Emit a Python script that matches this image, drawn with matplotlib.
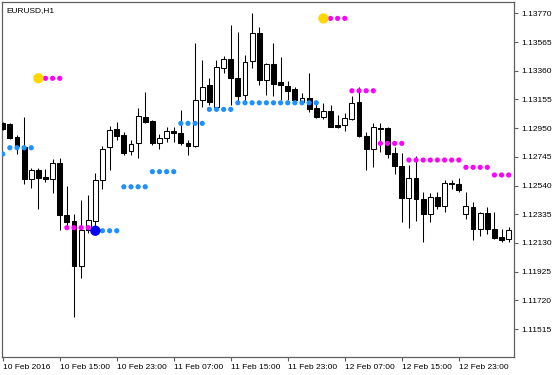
import numpy as np
import matplotlib
matplotlib.use('Agg')
import matplotlib.pyplot as plt

plt.rcParams['font.family'] = ['Liberation Sans', 'DejaVu Sans']

n = np.nan

# EURUSD H1 bars
opens = [1.12986, 1.12983, 1.12886, 1.12815, 1.12590, 1.12651, 1.12599, 1.12589, 1.12703, 1.12329,
         1.12286, 1.11965, 1.12222, 1.12289, 1.12579, 1.12813, 1.12941, 1.12903, 1.12789, 1.12841,
         1.13032, 1.13001, 1.12841, 1.12877, 1.12929, 1.12917, 1.12841, 1.12822, 1.13151, 1.13258,
         1.13103, 1.13377, 1.13441, 1.13306, 1.13186, 1.13432, 1.13627, 1.13294, 1.13408, 1.13277,
         1.13253, 1.13227, 1.13138, 1.13163, 1.13091, 1.13027, 1.13074, 1.12974, 1.12972, 1.13015,
         1.13138, 1.12896, 1.12799, 1.12949, 1.12949, 1.12770, 1.12679, 1.12449, 1.12592, 1.12447,
         1.12335, 1.12456, 1.12394, 1.12561, 1.12551, 1.12335, 1.12389, 1.12227, 1.12341, 1.12229,
         1.12169, 1.12156]
highs = [1.12994, 1.12990, 1.12904, 1.13029, 1.12665, 1.12665, 1.12658, 1.12727, 1.12734, 1.12536,
         1.12336, 1.12436, 1.12472, 1.12627, 1.12822, 1.12967, 1.12994, 1.12924, 1.12865, 1.13091,
         1.13206, 1.13008, 1.12908, 1.12960, 1.12960, 1.13079, 1.12865, 1.13556, 1.13436, 1.13306,
         1.13436, 1.13467, 1.13686, 1.13639, 1.13472, 1.13770, 1.13674, 1.13415, 1.13560, 1.13456,
         1.13286, 1.13241, 1.13199, 1.13341, 1.13138, 1.13127, 1.13115, 1.13043, 1.13056, 1.13179,
         1.13244, 1.12922, 1.12989, 1.12984, 1.12960, 1.12817, 1.12774, 1.12686, 1.12751, 1.12497,
         1.12488, 1.12496, 1.12579, 1.12579, 1.12592, 1.12496, 1.12419, 1.12354, 1.12389, 1.12351,
         1.12229, 1.12242]
lows = [1.12936, 1.12872, 1.12765, 1.12551, 1.12522, 1.12372, 1.12567, 1.12484, 1.12222, 1.12236,
        1.11603, 1.11877, 1.12199, 1.12210, 1.12513, 1.12651, 1.12865, 1.12758, 1.12758, 1.12734,
        1.12984, 1.12829, 1.12799, 1.12853, 1.12853, 1.12829, 1.12758, 1.12817, 1.13103, 1.13115,
        1.13091, 1.13341, 1.13115, 1.13120, 1.13138, 1.13379, 1.13258, 1.13186, 1.13179, 1.13151,
        1.13151, 1.13138, 1.13133, 1.13067, 1.13020, 1.13013, 1.12956, 1.12949, 1.12927, 1.13008,
        1.12889, 1.12651, 1.12672, 1.12776, 1.12740, 1.12622, 1.12279, 1.12240, 1.12286, 1.12136,
        1.12279, 1.12370, 1.12353, 1.12515, 1.12497, 1.12299, 1.12151, 1.12179, 1.12194, 1.12156,
        1.12135, 1.12133]
closes = [1.12944, 1.12883, 1.12822, 1.12586, 1.12651, 1.12596, 1.12586, 1.12703, 1.12329, 1.12279,
          1.11965, 1.12222, 1.12294, 1.12579, 1.12801, 1.12936, 1.12896, 1.12770, 1.12836, 1.13036,
          1.12992, 1.12846, 1.12877, 1.12929, 1.12917, 1.12841, 1.12822, 1.13151, 1.13246, 1.13134,
          1.13389, 1.13441, 1.13306, 1.13179, 1.13424, 1.13627, 1.13294, 1.13408, 1.13263, 1.13256,
          1.13217, 1.13151, 1.13163, 1.13086, 1.13027, 1.13074, 1.12960, 1.12960, 1.13020, 1.13132,
          1.12894, 1.12799, 1.12956, 1.12941, 1.12765, 1.12679, 1.12449, 1.12592, 1.12444, 1.12335,
          1.12456, 1.12394, 1.12561, 1.12548, 1.12508, 1.12394, 1.12227, 1.12341, 1.12227, 1.12163,
          1.12151, 1.12222]

# indicator buffers (blue = up stop, magenta = down stop)
up_stop = [1.12765, 1.12810, 1.12810, 1.12810, 1.12810, n, n, n, n, n,
           n, n, n, n, 1.12217, 1.12217, 1.12217, 1.12531, 1.12531, 1.12531,
           1.12531, 1.12639, 1.12639, 1.12639, 1.12639, 1.12984, 1.12984, 1.12984, 1.12984, 1.13084,
           1.13084, 1.13084, 1.13084, 1.13131, 1.13131, 1.13131, 1.13131, 1.13131, 1.13131, 1.13131,
           1.13131, 1.13131, 1.13131, 1.13131, 1.13131, n, n, n, n, n,
           n, n, n, n, n, n, n, n, n, n,
           n, n, n, n, n, n, n, n, n, n,
           n, n]
down_stop = [n, n, n, n, n, n, 1.13306, 1.13306, 1.13306, 1.12239,
             1.12239, 1.12239, 1.12239, n, n, n, n, n, n, n,
             n, n, n, n, n, n, n, n, n, n,
             n, n, n, n, n, n, n, n, n, n,
             n, n, n, n, n, n, 1.13734, 1.13734, 1.13734, 1.13217,
             1.13217, 1.13217, 1.13217, 1.12841, 1.12841, 1.12841, 1.12841, 1.12722, 1.12722, 1.12722,
             1.12722, 1.12722, 1.12722, 1.12722, 1.12722, 1.12670, 1.12670, 1.12670, 1.12670, 1.12615,
             1.12615, 1.12615]
buy_idx = [13]
buy_price = [1.12217]
sell_idx = [5, 45]
sell_price = [1.13306, 1.13734]

tick_idx = [0, 8, 16, 24, 32, 40, 48, 56, 64]
tick_labels = ['10 Feb 2016', '10 Feb 15:00', '10 Feb 23:00', '11 Feb 07:00', '11 Feb 15:00',
               '11 Feb 23:00', '12 Feb 07:00', '12 Feb 15:00', '12 Feb 23:00']
price_ticks = [1.13770, 1.13565, 1.13360, 1.13155, 1.12950, 1.12745, 1.12540,
               1.12335, 1.12130, 1.11925, 1.11720, 1.11515]

o = np.array(opens)
h = np.array(highs)
l = np.array(lows)
c = np.array(closes)
x = np.arange(len(o))
bull = c >= o

fig = plt.figure(figsize=(5.6, 3.75), dpi=100)
ax = fig.add_axes([2/560, 18/375, 512/560, 355/375])

ax.vlines(x, l, h, color='black', linewidth=0.75, zorder=2)
body_lo = np.minimum(o, c)
body_h = np.maximum(np.abs(c - o), 0.00002)
ax.bar(x, body_h, bottom=body_lo, width=0.68,
       color=np.where(bull, 'white', 'black'), edgecolor='black', linewidth=0.75, zorder=3)

ax.scatter(x, up_stop, s=14, color='#1E90FF', edgecolors='none', zorder=4)
ax.scatter(x, down_stop, s=14, color='#FF00FF', edgecolors='none', zorder=4)
ax.scatter(buy_idx, buy_price, s=55, color='#0000FF', edgecolors='none', zorder=5)
ax.scatter(sell_idx, sell_price, s=55, color='#FFD700', edgecolors='none', zorder=5)

ax.set_xlim(-0.1, 71.75)
ax.set_ylim(1.11315, 1.13851)

ax.yaxis.tick_right()
ax.set_yticks(price_ticks)
ax.set_yticklabels(['%.5f' % p for p in price_ticks])
ax.set_xticks(tick_idx)
ax.set_xticklabels(tick_labels, ha='left')
ax.tick_params(axis='both', direction='out', length=3, width=0.8, color='#606060',
               labelsize=6, pad=2)

for sp in ax.spines.values():
    sp.set_color('#606060')
    sp.set_linewidth(0.9)

ax.text(0.008, 0.985, 'EURUSD,H1', transform=ax.transAxes, fontsize=6, va='top', ha='left')

fig.savefig('out.png', dpi=100)
